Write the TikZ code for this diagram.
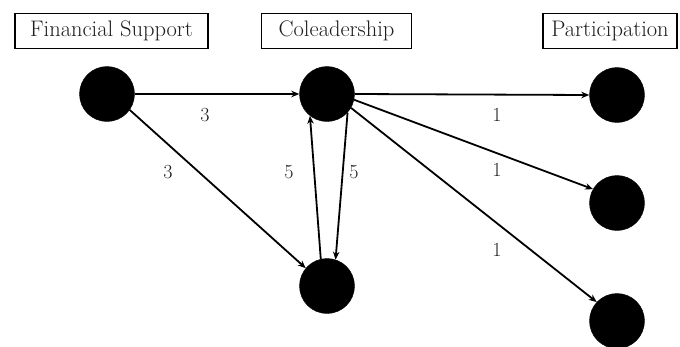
\documentclass[tikz,border=0pt]{standalone}
\usetikzlibrary{arrows.meta}
\definecolor{txt}{HTML}{1E1E1E}
\begin{document}
\begin{tikzpicture}[x=1pt,y=-1pt,
  actor/.style={circle,fill=black,draw=black,minimum size=55pt,inner sep=0pt},
  group/.style={draw=black,line width=1.5pt,text=txt,font=\fontsize{22.5}{25}\selectfont,inner sep=0pt,minimum height=35pt},
  tie/.style={-{Stealth[length=8pt,width=6.5pt]},line width=1.8pt},
  weight/.style={text=txt,font=\fontsize{20}{22}\selectfont}]
\useasboundingbox (0,0) rectangle (680,346);
% group headings
\node[group,minimum width=193pt] (hfs) at (111.5,31) {Financial Support};
\node[group,minimum width=150pt] (hco) at (336.5,31) {Coleadership};
\node[group,minimum width=134pt] (hpa) at (610,31) {Participation};
% actors
\node[actor] (fs) at (107,94) {};
\node[actor] (co) at (327,94) {};
\node[actor] (lo) at (327,286) {};
\node[actor] (p1) at (617,95) {};
\node[actor] (p2) at (617,203) {};
\node[actor] (p3) at (617,321) {};
% ties
\draw[tie] (fs.east) -- (co.west);
\draw[tie] (fs.-35) -- (lo.140);
\draw[tie] (lo.103) -- (co.232);
\draw[tie] (co.-42) -- (lo.72);
\draw[tie] (co.east) -- (p1.west);
\draw[tie] (co.-12) -- (p2.150);
\draw[tie] (co.-30) -- (p3.137);
% weights
\node[weight] (w1) at (205,115) {3};
\node[weight] (w2) at (168,172) {3};
\node[weight] (w3) at (289,172) {5};
\node[weight] (w4) at (354,172) {5};
\node[weight] (w5) at (497,115) {1};
\node[weight] (w6) at (497,170) {1};
\node[weight] (w7) at (497,250) {1};
\end{tikzpicture}
\end{document}
